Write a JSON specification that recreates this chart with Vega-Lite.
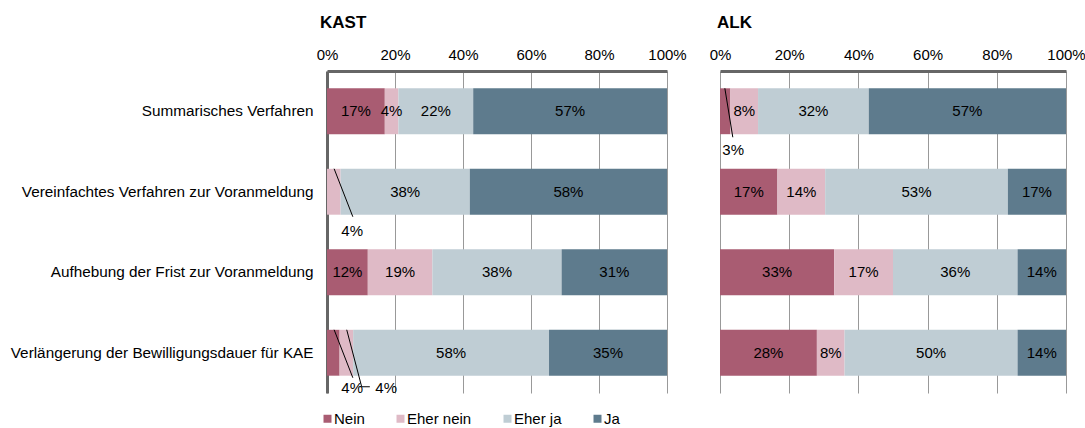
{
  "$schema": "https://vega.github.io/schema/vega-lite/v6.json",
  "padding": {"left": 10, "top": 14, "right": 0, "bottom": 0},
  "autosize": {"type": "pad"},
  "background": "white",
  "config": {
    "font": "Liberation Sans",
    "view": {"stroke": null},
    "axis": {"labelFont": "Liberation Sans", "labelFontSize": 15, "labelColor": "#000000", "title": null},
    "legend": {"labelFont": "Liberation Sans"},
    "title": {"font": "Liberation Sans"}
  },
  "spacing": 53,
  "bounds": "flush",
  "resolve": {"legend": {"color": "independent"}},
  "datasets": {
    "main": [
      {"panel": "KAST", "question": "Summarisches Verfahren", "cat": "Nein", "k": 1, "value": 0.17},
      {"panel": "KAST", "question": "Summarisches Verfahren", "cat": "Eher nein", "k": 2, "value": 0.04},
      {"panel": "KAST", "question": "Summarisches Verfahren", "cat": "Eher ja", "k": 3, "value": 0.22},
      {"panel": "KAST", "question": "Summarisches Verfahren", "cat": "Ja", "k": 4, "value": 0.57},
      {"panel": "KAST", "question": "Vereinfachtes Verfahren zur Voranmeldung", "cat": "Nein", "k": 1, "value": 0.0},
      {"panel": "KAST", "question": "Vereinfachtes Verfahren zur Voranmeldung", "cat": "Eher nein", "k": 2, "value": 0.04, "out": true},
      {"panel": "KAST", "question": "Vereinfachtes Verfahren zur Voranmeldung", "cat": "Eher ja", "k": 3, "value": 0.38},
      {"panel": "KAST", "question": "Vereinfachtes Verfahren zur Voranmeldung", "cat": "Ja", "k": 4, "value": 0.58},
      {"panel": "KAST", "question": "Aufhebung der Frist zur Voranmeldung", "cat": "Nein", "k": 1, "value": 0.12},
      {"panel": "KAST", "question": "Aufhebung der Frist zur Voranmeldung", "cat": "Eher nein", "k": 2, "value": 0.19},
      {"panel": "KAST", "question": "Aufhebung der Frist zur Voranmeldung", "cat": "Eher ja", "k": 3, "value": 0.38},
      {"panel": "KAST", "question": "Aufhebung der Frist zur Voranmeldung", "cat": "Ja", "k": 4, "value": 0.31},
      {"panel": "KAST", "question": "Verlängerung der Bewilligungsdauer für KAE", "cat": "Nein", "k": 1, "value": 0.037, "out": true},
      {"panel": "KAST", "question": "Verlängerung der Bewilligungsdauer für KAE", "cat": "Eher nein", "k": 2, "value": 0.04, "out": true},
      {"panel": "KAST", "question": "Verlängerung der Bewilligungsdauer für KAE", "cat": "Eher ja", "k": 3, "value": 0.576},
      {"panel": "KAST", "question": "Verlängerung der Bewilligungsdauer für KAE", "cat": "Ja", "k": 4, "value": 0.347},
      {"panel": "ALK", "question": "Summarisches Verfahren", "cat": "Nein", "k": 1, "value": 0.03, "out": true},
      {"panel": "ALK", "question": "Summarisches Verfahren", "cat": "Eher nein", "k": 2, "value": 0.08},
      {"panel": "ALK", "question": "Summarisches Verfahren", "cat": "Eher ja", "k": 3, "value": 0.32},
      {"panel": "ALK", "question": "Summarisches Verfahren", "cat": "Ja", "k": 4, "value": 0.57},
      {"panel": "ALK", "question": "Vereinfachtes Verfahren zur Voranmeldung", "cat": "Nein", "k": 1, "value": 0.166},
      {"panel": "ALK", "question": "Vereinfachtes Verfahren zur Voranmeldung", "cat": "Eher nein", "k": 2, "value": 0.138},
      {"panel": "ALK", "question": "Vereinfachtes Verfahren zur Voranmeldung", "cat": "Eher ja", "k": 3, "value": 0.528},
      {"panel": "ALK", "question": "Vereinfachtes Verfahren zur Voranmeldung", "cat": "Ja", "k": 4, "value": 0.168},
      {"panel": "ALK", "question": "Aufhebung der Frist zur Voranmeldung", "cat": "Nein", "k": 1, "value": 0.33},
      {"panel": "ALK", "question": "Aufhebung der Frist zur Voranmeldung", "cat": "Eher nein", "k": 2, "value": 0.17},
      {"panel": "ALK", "question": "Aufhebung der Frist zur Voranmeldung", "cat": "Eher ja", "k": 3, "value": 0.36},
      {"panel": "ALK", "question": "Aufhebung der Frist zur Voranmeldung", "cat": "Ja", "k": 4, "value": 0.14},
      {"panel": "ALK", "question": "Verlängerung der Bewilligungsdauer für KAE", "cat": "Nein", "k": 1, "value": 0.28},
      {"panel": "ALK", "question": "Verlängerung der Bewilligungsdauer für KAE", "cat": "Eher nein", "k": 2, "value": 0.08},
      {"panel": "ALK", "question": "Verlängerung der Bewilligungsdauer für KAE", "cat": "Eher ja", "k": 3, "value": 0.50},
      {"panel": "ALK", "question": "Verlängerung der Bewilligungsdauer für KAE", "cat": "Ja", "k": 4, "value": 0.14}
    ],
    "callouts": [
      {"id": "k2", "panel": "KAST", "question": "Vereinfachtes Verfahren zur Voranmeldung", "x0": 0.021, "x1": 0.076, "lx": 0.074, "label": "4%"},
      {"id": "k4a", "panel": "KAST", "question": "Verlängerung der Bewilligungsdauer für KAE", "x0": 0.021, "x1": 0.076, "lx": 0.074, "label": "4%"},
      {"id": "k4b", "panel": "KAST", "question": "Verlängerung der Bewilligungsdauer für KAE", "x0": 0.058, "x1": 0.102, "xt": 0.126, "lx": 0.174, "label": "4%"},
      {"id": "a1", "panel": "ALK", "question": "Summarisches Verfahren", "x0": 0.014, "x1": 0.037, "lx": 0.038, "label": "3%"}
    ]
  },
  "hconcat": [
    {
      "width": 340,
      "height": 322,
      "title": {"text": "KAST", "anchor": "start", "frame": "group", "fontSize": 17, "fontWeight": "bold", "color": "#000000", "dx": -7, "offset": 15},
      "encoding": {
        "y": {
          "field": "question", "type": "nominal", "title": null,
          "scale": {"domain": ["Summarisches Verfahren", "Vereinfachtes Verfahren zur Voranmeldung", "Aufhebung der Frist zur Voranmeldung", "Verlängerung der Bewilligungsdauer für KAE"], "paddingInner": 0.43, "paddingOuter": 0.215},
          "axis": {"orient": "left", "ticks": false, "tickSize": 0, "labelPadding": 14, "labelFontSize": 15.3, "domainColor": "#666666", "domainWidth": 3, "grid": false, "labelLimit": 400}
        }
      },
      "layer": [
        {
          "data": {"name": "main"},
          "transform": [{"filter": "datum.panel === 'KAST'"}],
          "mark": {"type": "bar"},
          "encoding": {
            "x": {"field": "value", "type": "quantitative", "stack": "zero", "scale": {"domain": [0, 1]},
                  "axis": {"orient": "top", "format": ".0%", "values": [0, 0.2, 0.4, 0.6, 0.8, 1], "labelFlush": false, "ticks": false, "tickSize": 0, "labelPadding": 9, "domainColor": "#666666", "domainWidth": 3, "grid": true, "gridColor": "#999999", "gridWidth": 1, "title": null}},
            "color": {"field": "cat", "type": "nominal", "sort": ["Nein", "Eher nein", "Eher ja", "Ja"],
                      "scale": {"domain": ["Nein", "Eher nein", "Eher ja", "Ja"], "range": ["#a95c72", "#dfbac6", "#bfcdd4", "#5e7b8d"]},
                      "legend": {"orient": "none", "legendX": -7, "legendY": 340, "direction": "horizontal", "title": null, "symbolType": "square", "symbolSize": 64, "symbolStrokeWidth": 0, "symbolOpacity": 1, "labelFontSize": 15, "labelColor": "#000000", "labelOffset": -1, "columnPadding": 28}},
            "order": {"field": "k", "type": "quantitative"}
          }
        },
        {
          "data": {"name": "main"},
          "transform": [{"filter": "datum.panel === 'KAST'"}],
          "mark": {"type": "text", "fontSize": 15, "color": "#000000"},
          "encoding": {
            "x": {"field": "value", "type": "quantitative", "stack": "zero", "bandPosition": 0.5},
            "detail": {"field": "cat", "type": "nominal"},
            "order": {"field": "k", "type": "quantitative"},
            "text": {"condition": {"test": "datum.out || datum.value === 0", "value": ""}, "field": "value", "type": "quantitative", "format": ".0%"}
          }
        },
        {
          "data": {"name": "callouts"},
          "transform": [{"filter": "datum.panel === 'KAST'"}],
          "layer": [
            {
              "transform": [{"filter": "datum.id !== 'k4b'"}],
              "mark": {"type": "rule", "color": "#000000", "strokeWidth": 1, "yOffset": -23, "y2Offset": 25},
              "encoding": {
                "x": {"field": "x0", "type": "quantitative"},
                "x2": {"field": "x1"},
                "y2": {"field": "question"}
              }
            },
            {
              "transform": [{"filter": "datum.id === 'k4b'"}],
              "mark": {"type": "rule", "color": "#000000", "strokeWidth": 1, "yOffset": -23, "y2Offset": 34},
              "encoding": {
                "x": {"field": "x0", "type": "quantitative"},
                "x2": {"field": "x1"},
                "y2": {"field": "question"}
              }
            },
            {
              "transform": [{"filter": "datum.id === 'k4b'"}],
              "mark": {"type": "rule", "color": "#000000", "strokeWidth": 1, "yOffset": 34},
              "encoding": {
                "x": {"field": "x1", "type": "quantitative"},
                "x2": {"field": "xt"}
              }
            },
            {
              "transform": [{"filter": "datum.id === 'k2'"}],
              "mark": {"type": "text", "fontSize": 15, "color": "#000000", "yOffset": 39},
              "encoding": {
                "x": {"field": "lx", "type": "quantitative"},
                "text": {"field": "label"}
              }
            },
            {
              "transform": [{"filter": "datum.id === 'k4a' || datum.id === 'k4b'"}],
              "mark": {"type": "text", "fontSize": 15, "color": "#000000", "yOffset": 35},
              "encoding": {
                "x": {"field": "lx", "type": "quantitative"},
                "text": {"field": "label"}
              }
            }
          ]
        }
      ]
    },
    {
      "width": 346,
      "height": 322,
      "title": {"text": "ALK", "anchor": "start", "frame": "group", "fontSize": 17, "fontWeight": "bold", "color": "#000000", "dx": -3, "offset": 15},
      "encoding": {
        "y": {
          "field": "question", "type": "nominal", "title": null,
          "scale": {"domain": ["Summarisches Verfahren", "Vereinfachtes Verfahren zur Voranmeldung", "Aufhebung der Frist zur Voranmeldung", "Verlängerung der Bewilligungsdauer für KAE"], "paddingInner": 0.43, "paddingOuter": 0.215},
          "axis": null
        }
      },
      "layer": [
        {
          "data": {"name": "main"},
          "transform": [{"filter": "datum.panel === 'ALK'"}],
          "mark": {"type": "bar"},
          "encoding": {
            "x": {"field": "value", "type": "quantitative", "stack": "zero", "scale": {"domain": [0, 1]},
                  "axis": {"orient": "top", "format": ".0%", "values": [0, 0.2, 0.4, 0.6, 0.8, 1], "labelFlush": false, "ticks": false, "tickSize": 0, "labelPadding": 9, "domainColor": "#666666", "domainWidth": 3, "grid": true, "gridColor": "#999999", "gridWidth": 1, "title": null}},
            "color": {"field": "cat", "type": "nominal", "sort": ["Nein", "Eher nein", "Eher ja", "Ja"],
                      "scale": {"domain": ["Nein", "Eher nein", "Eher ja", "Ja"], "range": ["#a95c72", "#dfbac6", "#bfcdd4", "#5e7b8d"]},
                      "legend": null},
            "order": {"field": "k", "type": "quantitative"}
          }
        },
        {
          "data": {"name": "main"},
          "transform": [{"filter": "datum.panel === 'ALK'"}],
          "mark": {"type": "text", "fontSize": 15, "color": "#000000"},
          "encoding": {
            "x": {"field": "value", "type": "quantitative", "stack": "zero", "bandPosition": 0.5},
            "detail": {"field": "cat", "type": "nominal"},
            "order": {"field": "k", "type": "quantitative"},
            "text": {"condition": {"test": "datum.out || datum.value === 0", "value": ""}, "field": "value", "type": "quantitative", "format": ".0%"}
          }
        },
        {
          "data": {"name": "callouts"},
          "transform": [{"filter": "datum.panel === 'ALK'"}],
          "layer": [
            {
              "mark": {"type": "rule", "color": "#000000", "strokeWidth": 1, "yOffset": -23, "y2Offset": 26},
              "encoding": {
                "x": {"field": "x0", "type": "quantitative"},
                "x2": {"field": "x1"},
                "y2": {"field": "question"}
              }
            },
            {
              "mark": {"type": "text", "fontSize": 15, "color": "#000000", "yOffset": 39},
              "encoding": {
                "x": {"field": "lx", "type": "quantitative"},
                "text": {"field": "label"}
              }
            }
          ]
        }
      ]
    }
  ]
}
